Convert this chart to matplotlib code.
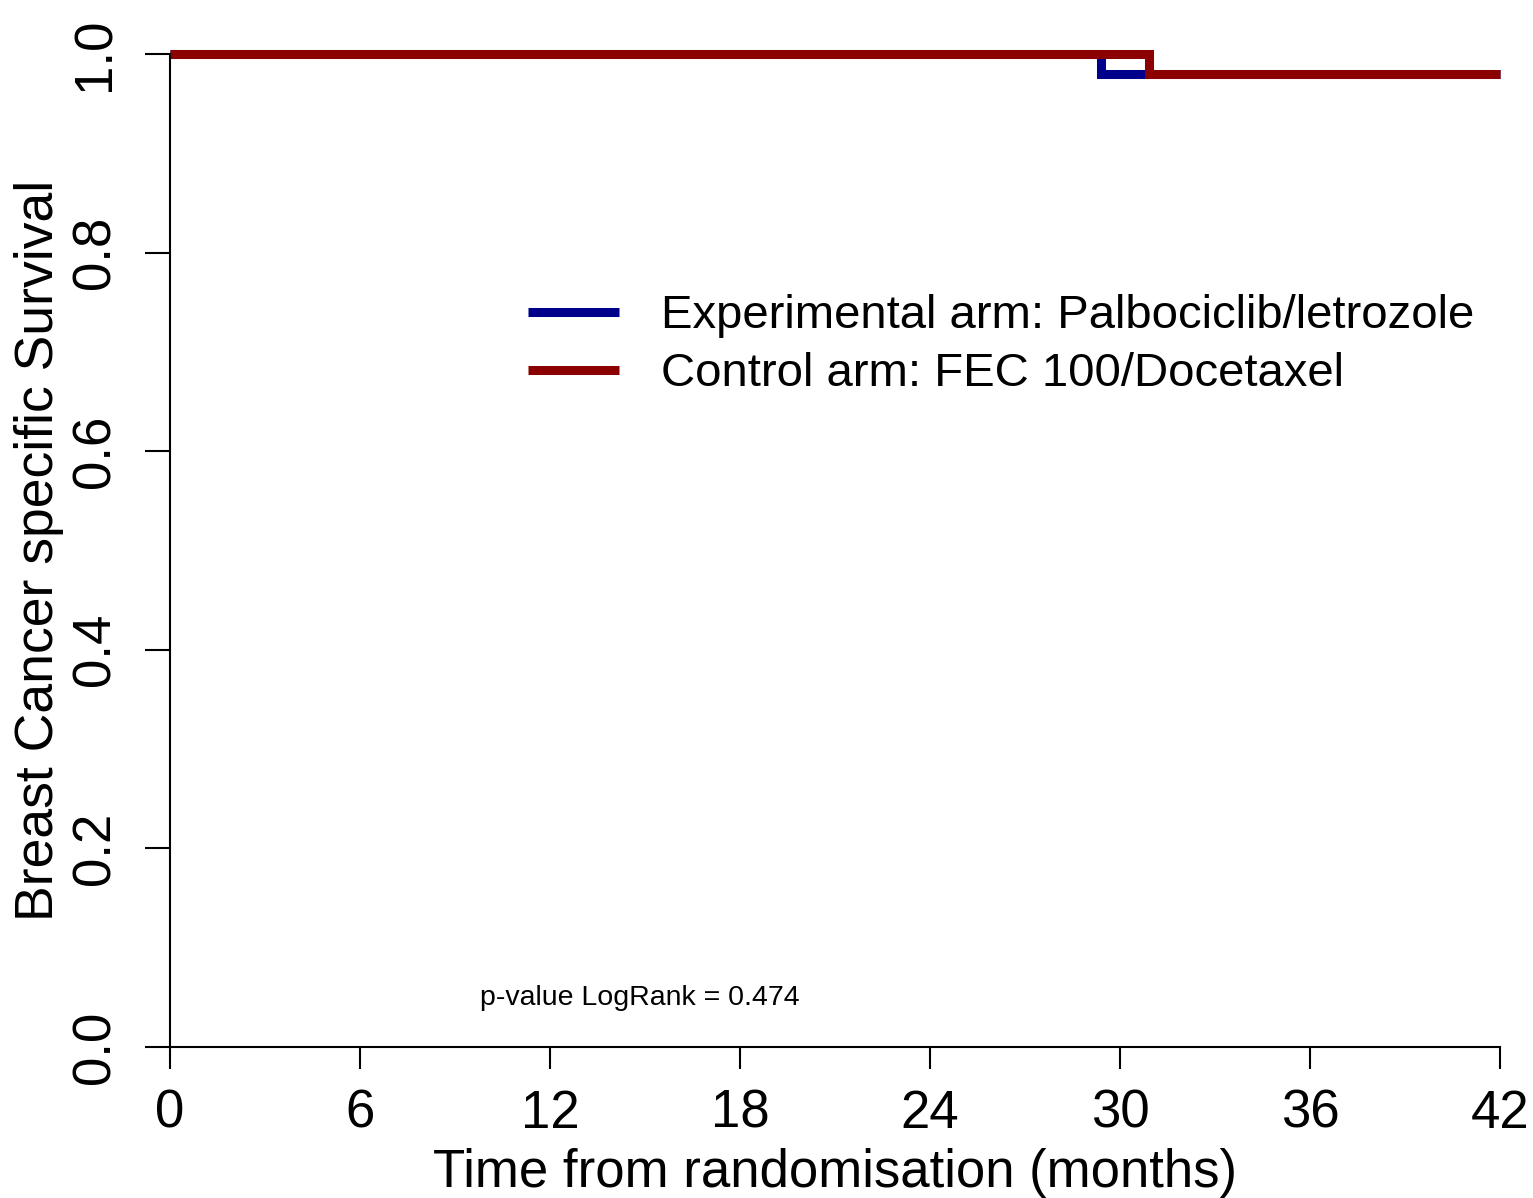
import matplotlib
matplotlib.use('Agg')
from matplotlib import pyplot as plt

plt.rcParams['font.family'] = ['Liberation Sans', 'DejaVu Sans']

# Kaplan-Meier step data (months, survival)
exp_time = [0, 29.4, 42]
exp_surv = [1.0, 0.98, 0.98]
ctl_time = [0, 30.9, 42]
ctl_surv = [1.0, 0.98, 0.98]

exp_label = 'Experimental arm: Palbociclib/letrozole'
ctl_label = 'Control arm: FEC 100/Docetaxel'
x_ticks = [0, 6, 12, 18, 24, 30, 36, 42]
y_ticks = [0.0, 0.2, 0.4, 0.6, 0.8, 1.0]
p_text = 'p-value LogRank = 0.474'

fig = plt.figure(figsize=(15.33, 11.98), dpi=100)
ax = fig.add_axes([170 / 1533, 151 / 1198, 1330 / 1533, 993 / 1198])

ax.step(exp_time, exp_surv, where='post', color='#00008B', lw=6.5,
        solid_capstyle='butt', solid_joinstyle='miter', clip_on=False, label=exp_label)
ax.step(ctl_time, ctl_surv, where='post', color='#8B0000', lw=6.5,
        solid_capstyle='butt', solid_joinstyle='miter', clip_on=False, label=ctl_label)

ax.set_xlim(0, 42)
ax.set_ylim(0, 1.0)
ax.spines['top'].set_visible(False)
ax.spines['right'].set_visible(False)
for s in ['left', 'bottom']:
    ax.spines[s].set_linewidth(1.5)

ax.set_xticks(x_ticks)
ax.set_xticklabels([str(t) for t in x_ticks])
ax.set_yticks(y_ticks)
ax.set_yticklabels(['%.1f' % t for t in y_ticks], rotation=90, va='center')
ax.tick_params(axis='x', direction='out', length=16, width=1.5, pad=14, labelsize=38)
ax.tick_params(axis='y', direction='out', length=18, width=1.5, pad=18, labelsize=38)

ax.set_xlabel('Time from randomisation (months)', fontsize=38)
ax.xaxis.set_label_coords(0.5, -0.102)
ax.set_ylabel('Breast Cancer specific Survival', fontsize=38.5)
ax.yaxis.set_label_coords(-0.08, 0.5)

ax.text(14.84, 0.049, p_text, fontsize=20.5, ha='center', va='center')

leg = ax.legend(loc='upper left', bbox_to_anchor=(0.269, 0.758), frameon=False,
                fontsize=34, handlelength=1.93, handletextpad=0.9, labelspacing=0.3,
                borderaxespad=0, borderpad=0)

fig.savefig('out.png', dpi=100)
